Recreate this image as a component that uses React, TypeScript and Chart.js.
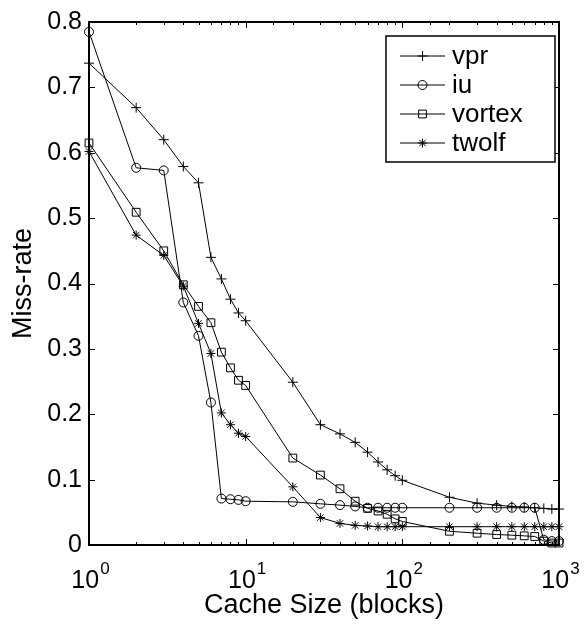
import React, { useEffect, useRef } from 'react';
import { Chart, registerables } from 'chart.js';

Chart.register(...registerables);

// ---- Data ----
const cacheSizes = [1, 2, 3, 4, 5, 6, 7, 8, 9, 10, 20, 30, 40, 50, 60, 70, 80, 90, 100, 200, 300, 400, 500, 600, 700, 800, 900, 1000];
const vpr = [0.737, 0.669, 0.620, 0.579, 0.554, 0.440, 0.407, 0.376, 0.355, 0.343, 0.249, 0.184, 0.170, 0.157, 0.142, 0.127, 0.115, 0.106, 0.099, 0.073, 0.064, 0.061, 0.059, 0.058, 0.057, 0.056, 0.055, 0.055];
const iu = [0.785, 0.577, 0.573, 0.371, 0.320, 0.218, 0.071, 0.070, 0.069, 0.067, 0.066, 0.063, 0.061, 0.059, 0.057, 0.057, 0.057, 0.057, 0.057, 0.057, 0.057, 0.057, 0.057, 0.057, 0.057, 0.008, 0.006, 0.006];
const vortex = [0.615, 0.509, 0.450, 0.398, 0.365, 0.340, 0.295, 0.271, 0.252, 0.244, 0.133, 0.107, 0.086, 0.067, 0.056, 0.052, 0.047, 0.040, 0.036, 0.021, 0.018, 0.016, 0.015, 0.014, 0.013, 0.006, 0.003, 0.003];
const twolf = [0.602, 0.474, 0.443, 0.396, 0.339, 0.293, 0.202, 0.184, 0.171, 0.166, 0.089, 0.042, 0.033, 0.030, 0.029, 0.028, 0.028, 0.028, 0.028, 0.028, 0.028, 0.028, 0.028, 0.028, 0.028, 0.028, 0.028, 0.028];

const seriesNames = ['vpr', 'iu', 'vortex', 'twolf'];
const seriesValues = [vpr, iu, vortex, twolf];
const markerStyles = ['cross', 'circle', 'rect', 'star'];
const markerRadii = [5, 4.5, 5.5, 4.5];

const xMajorTicks = [1, 10, 100, 1000];
const xTickBase = '10';
const xTickExponents = ['0', '1', '2', '3'];
const yTickLabels = ['0', '0.1', '0.2', '0.3', '0.4', '0.5', '0.6', '0.7', '0.8'];
const xTitle = 'Cache Size (blocks)';
const yTitle = 'Miss-rate';

const FONT = "'Liberation Sans', Arial, Helvetica, sans-serif";

function drawMarker(ctx: CanvasRenderingContext2D, style: string, x: number, y: number, r: number) {
  ctx.beginPath();
  if (style === 'cross') {
    ctx.moveTo(x - r, y); ctx.lineTo(x + r, y);
    ctx.moveTo(x, y - r); ctx.lineTo(x, y + r);
  } else if (style === 'circle') {
    ctx.arc(x, y, r, 0, Math.PI * 2);
  } else if (style === 'rect') {
    const s = r * Math.SQRT1_2;
    ctx.rect(x - s, y - s, 2 * s, 2 * s);
  } else if (style === 'star') {
    const d = r * Math.SQRT1_2;
    ctx.moveTo(x - r, y); ctx.lineTo(x + r, y);
    ctx.moveTo(x, y - r); ctx.lineTo(x, y + r);
    ctx.moveTo(x - d, y - d); ctx.lineTo(x + d, y + d);
    ctx.moveTo(x - d, y + d); ctx.lineTo(x + d, y - d);
  }
  ctx.stroke();
}

const isPow10 = (v: number) => {
  const l = Math.log10(v);
  return Math.abs(l - Math.round(l)) < 1e-9;
};

const framePlugin = {
  id: 'matlabFrame',
  afterDraw(chart: any) {
    const { ctx, chartArea } = chart;
    const { left, right, top, bottom } = chartArea;
    ctx.save();
    ctx.strokeStyle = '#000';
    ctx.lineCap = 'butt';
    // tick marks (inward)
    ctx.lineWidth = 1;
    const xs = chart.scales.x;
    xs.ticks.forEach((t: any) => {
      const px = Math.round(xs.getPixelForValue(t.value)) + 0.5;
      const len = isPow10(t.value) ? 6 : 3;
      ctx.beginPath();
      ctx.moveTo(px, bottom); ctx.lineTo(px, bottom - len);
      ctx.moveTo(px, top); ctx.lineTo(px, top + len);
      ctx.stroke();
    });
    const ys = chart.scales.y;
    ys.ticks.forEach((t: any) => {
      const py = Math.round(ys.getPixelForValue(t.value)) + 0.5;
      ctx.beginPath();
      ctx.moveTo(left, py); ctx.lineTo(left + 6, py);
      ctx.moveTo(right, py); ctx.lineTo(right - 6, py);
      ctx.stroke();
    });
    // frame
    ctx.lineWidth = 2;
    ctx.strokeRect(left, top, right - left, bottom - top);

    // x tick labels with superscript exponents
    ctx.fillStyle = '#000';
    ctx.textBaseline = 'alphabetic';
    ctx.textAlign = 'left';
    xMajorTicks.forEach((v, k) => {
      const px = xs.getPixelForValue(v);
      ctx.font = `25px ${FONT}`;
      const wb = ctx.measureText(xTickBase).width;
      ctx.font = `17px ${FONT}`;
      const we = ctx.measureText(xTickExponents[k]).width;
      const x0 = px - (wb + we) / 2 + 1;
      ctx.font = `25px ${FONT}`;
      ctx.fillText(xTickBase, x0, bottom + 43);
      ctx.font = `17px ${FONT}`;
      ctx.fillText(xTickExponents[k], x0 + wb + 1, bottom + 29);
    });

    // legend
    const bx = right - 173, by = top + 14, bw = 169, bh = 126;
    ctx.fillStyle = '#fff';
    ctx.fillRect(bx, by, bw, bh);
    ctx.lineWidth = 1.5;
    ctx.strokeRect(bx, by, bw, bh);
    ctx.lineWidth = 1;
    ctx.font = `26px ${FONT}`;
    ctx.textBaseline = 'middle';
    ctx.textAlign = 'left';
    chart.data.datasets.forEach((ds: any, i: number) => {
      const ry = by + 20 + i * 29;
      ctx.strokeStyle = '#000';
      ctx.beginPath();
      ctx.moveTo(bx + 14, ry); ctx.lineTo(bx + 59, ry);
      ctx.stroke();
      drawMarker(ctx, markerStyles[i], bx + 36.5, ry, markerRadii[i]);
      ctx.fillStyle = '#000';
      ctx.fillText(ds.label, bx + 66, ry + 1);
    });
    ctx.restore();
  },
};

export default function App() {
  const canvasRef = useRef<HTMLCanvasElement | null>(null);

  useEffect(() => {
    if (!canvasRef.current) return;
    Chart.defaults.color = '#000';
    const datasets = seriesNames.map((name, i) => ({
      label: name,
      data: cacheSizes.map((x, j) => ({ x, y: seriesValues[i][j] })),
      borderColor: '#000',
      borderWidth: 1,
      backgroundColor: 'rgba(0,0,0,0)',
      pointStyle: markerStyles[i],
      pointRadius: markerRadii[i],
      pointBorderColor: '#000',
      pointBackgroundColor: 'rgba(0,0,0,0)',
      pointBorderWidth: 1,
      tension: 0,
      clip: false,
    }));
    const chart = new Chart(canvasRef.current, {
      type: 'line',
      data: { datasets },
      options: {
        animation: false,
        responsive: false,
        devicePixelRatio: 1,
        layout: { padding: { top: 18, right: 25, left: 0, bottom: 0 } },
        plugins: { legend: { display: false }, tooltip: { enabled: false } },
        scales: {
          x: {
            type: 'logarithmic',
            min: 1,
            max: 1000,
            grid: { display: false, drawTicks: false },
            border: { display: false },
            ticks: {
              autoSkip: false,
              maxRotation: 0,
              minRotation: 0,
              padding: 18,
              font: { family: FONT, size: 25 },
              color: '#000',
              // labels are drawn with superscript exponents by the frame plugin
              callback: () => '',
            },
            title: {
              display: true,
              text: xTitle,
              font: { family: FONT, size: 27 },
              color: '#000',
              padding: { top: 0, bottom: 5 },
            },
            afterFit: (s: any) => { s.height = 82; },
          },
          y: {
            type: 'linear',
            min: 0,
            max: 0.8,
            grid: { display: false, drawTicks: false },
            border: { display: false },
            ticks: {
              stepSize: 0.1,
              padding: 7,
              font: { family: FONT, size: 25 },
              color: '#000',
              callback: (value: any) => {
                const idx = Math.round(Number(value) * 10);
                return yTickLabels[idx] ?? '';
              },
            },
            title: {
              display: true,
              text: yTitle,
              font: { family: FONT, size: 27 },
              color: '#000',
              padding: { top: 7, bottom: 0 },
            },
            afterFit: (s: any) => { s.width = 89; },
          },
        },
      },
      plugins: [framePlugin],
    } as any);
    return () => chart.destroy();
  }, []);

  return (
    <div style={{ position: 'absolute', left: 0, top: 0, width: 584, height: 627, background: '#fff' }}>
      <canvas ref={canvasRef} width={584} height={627} style={{ display: 'block' }} />
    </div>
  );
}
